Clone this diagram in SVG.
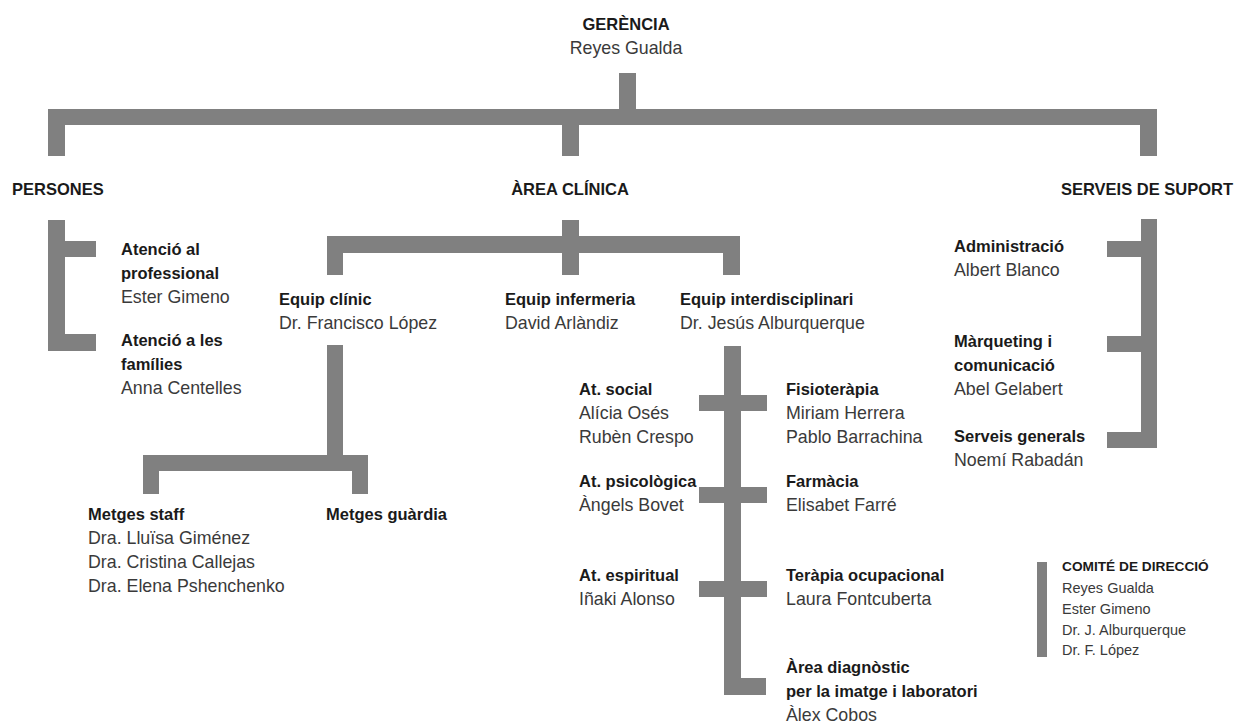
<svg xmlns="http://www.w3.org/2000/svg" width="1236" height="724" viewBox="0 0 1236 724">
<style>
.b{fill:#808080}
text{font-family:"Liberation Sans",Arial,sans-serif}
.h{font-size:16.5px;font-weight:bold;fill:#1a1a1a}
.n{font-size:17.8px;fill:#3a3a3a}
.lh{font-size:13.7px;font-weight:bold;fill:#1a1a1a}
.ln{font-size:14.5px;fill:#3a3a3a}
</style>
<rect width="1236" height="724" fill="#ffffff"/>
<g id="connectors" class="b">
<rect x="619" y="73" width="17" height="52"/>
<rect x="48" y="109" width="1109" height="16"/>
<rect x="48" y="109" width="17" height="47"/>
<rect x="1140" y="109" width="17" height="47"/>
<rect x="562" y="109" width="17" height="47"/>
<rect x="48" y="220" width="17" height="131"/>
<rect x="48" y="241" width="48" height="16"/>
<rect x="48" y="334" width="48" height="17"/>
<rect x="562" y="220" width="17" height="33"/>
<rect x="327" y="236" width="413" height="17"/>
<rect x="327" y="236" width="16" height="39"/>
<rect x="562" y="236" width="17" height="39"/>
<rect x="723" y="236" width="17" height="39"/>
<rect x="327" y="345" width="16" height="126"/>
<rect x="143" y="455" width="225" height="16"/>
<rect x="143" y="455" width="16" height="39"/>
<rect x="352" y="455" width="16" height="39"/>
<rect x="724" y="346" width="17" height="349"/>
<rect x="699" y="395" width="68" height="16"/>
<rect x="699" y="487" width="68" height="16"/>
<rect x="699" y="581" width="68" height="16"/>
<rect x="724" y="678" width="42" height="17"/>
<rect x="1141" y="219" width="16" height="229"/>
<rect x="1107" y="241" width="34" height="16"/>
<rect x="1107" y="336" width="34" height="16"/>
<rect x="1107" y="432" width="34" height="16"/>
</g>
<g id="gerencia"><text class="h" x="626" y="30" text-anchor="middle">GERÈNCIA</text><text class="n" x="626" y="54" text-anchor="middle">Reyes Gualda</text></g>
<g id="persones"><text class="h" x="12" y="195">PERSONES</text></g>
<g id="area-clinica"><text class="h" x="570" y="195" text-anchor="middle">ÀREA CLÍNICA</text></g>
<g id="serveis-suport"><text class="h" x="1233" y="195" text-anchor="end">SERVEIS DE SUPORT</text></g>
<g id="atencio-professional"><text class="h" x="121" y="255">Atenció al</text><text class="h" x="121" y="279">professional</text><text class="n" x="121" y="303">Ester Gimeno</text></g>
<g id="atencio-families"><text class="h" x="121" y="346">Atenció a les</text><text class="h" x="121" y="370">famílies</text><text class="n" x="121" y="394">Anna Centelles</text></g>
<g id="equip-clinic"><text class="h" x="279" y="305">Equip clínic</text><text class="n" x="279" y="329">Dr. Francisco López</text></g>
<g id="equip-infermeria"><text class="h" x="505" y="305">Equip infermeria</text><text class="n" x="505" y="329">David Arlàndiz</text></g>
<g id="equip-interdisciplinari"><text class="h" x="680" y="305">Equip interdisciplinari</text><text class="n" x="680" y="329">Dr. Jesús Alburquerque</text></g>
<g id="metges-staff"><text class="h" x="88" y="520">Metges staff</text><text class="n" x="88" y="544">Dra. Lluïsa Giménez</text><text class="n" x="88" y="568">Dra. Cristina Callejas</text><text class="n" x="88" y="592">Dra. Elena Pshenchenko</text></g>
<g id="metges-guardia"><text class="h" x="326" y="520">Metges guàrdia</text></g>
<g id="at-social"><text class="h" x="579" y="395">At. social</text><text class="n" x="579" y="419">Alícia Osés</text><text class="n" x="579" y="443">Rubèn Crespo</text></g>
<g id="fisioterapia"><text class="h" x="786" y="395">Fisioteràpia</text><text class="n" x="786" y="419">Miriam Herrera</text><text class="n" x="786" y="443">Pablo Barrachina</text></g>
<g id="at-psicologica"><text class="h" x="579" y="487">At. psicològica</text><text class="n" x="579" y="511">Àngels Bovet</text></g>
<g id="farmacia"><text class="h" x="786" y="487">Farmàcia</text><text class="n" x="786" y="511">Elisabet Farré</text></g>
<g id="at-espiritual"><text class="h" x="579" y="581">At. espiritual</text><text class="n" x="579" y="605">Iñaki Alonso</text></g>
<g id="terapia-ocupacional"><text class="h" x="786" y="581">Teràpia ocupacional</text><text class="n" x="786" y="605">Laura Fontcuberta</text></g>
<g id="area-diagnostic"><text class="h" x="786" y="673">Àrea diagnòstic</text><text class="h" x="786" y="697">per la imatge i laboratori</text><text class="n" x="786" y="721">Àlex Cobos</text></g>
<g id="administracio"><text class="h" x="954" y="252">Administració</text><text class="n" x="954" y="276">Albert Blanco</text></g>
<g id="marqueting"><text class="h" x="954" y="347">Màrqueting i</text><text class="h" x="954" y="371">comunicació</text><text class="n" x="954" y="395">Abel Gelabert</text></g>
<g id="serveis-generals"><text class="h" x="954" y="442">Serveis generals</text><text class="n" x="954" y="466">Noemí Rabadán</text></g>
<g id="comite-direccio">
<rect class="b" x="1037" y="562" width="10" height="95"/>
<text class="lh" x="1062" y="571">COMITÉ DE DIRECCIÓ</text>
<text class="ln" x="1062" y="593">Reyes Gualda</text>
<text class="ln" x="1062" y="614">Ester Gimeno</text>
<text class="ln" x="1062" y="635">Dr. J. Alburquerque</text>
<text class="ln" x="1062" y="655">Dr. F. López</text>
</g>
</svg>
